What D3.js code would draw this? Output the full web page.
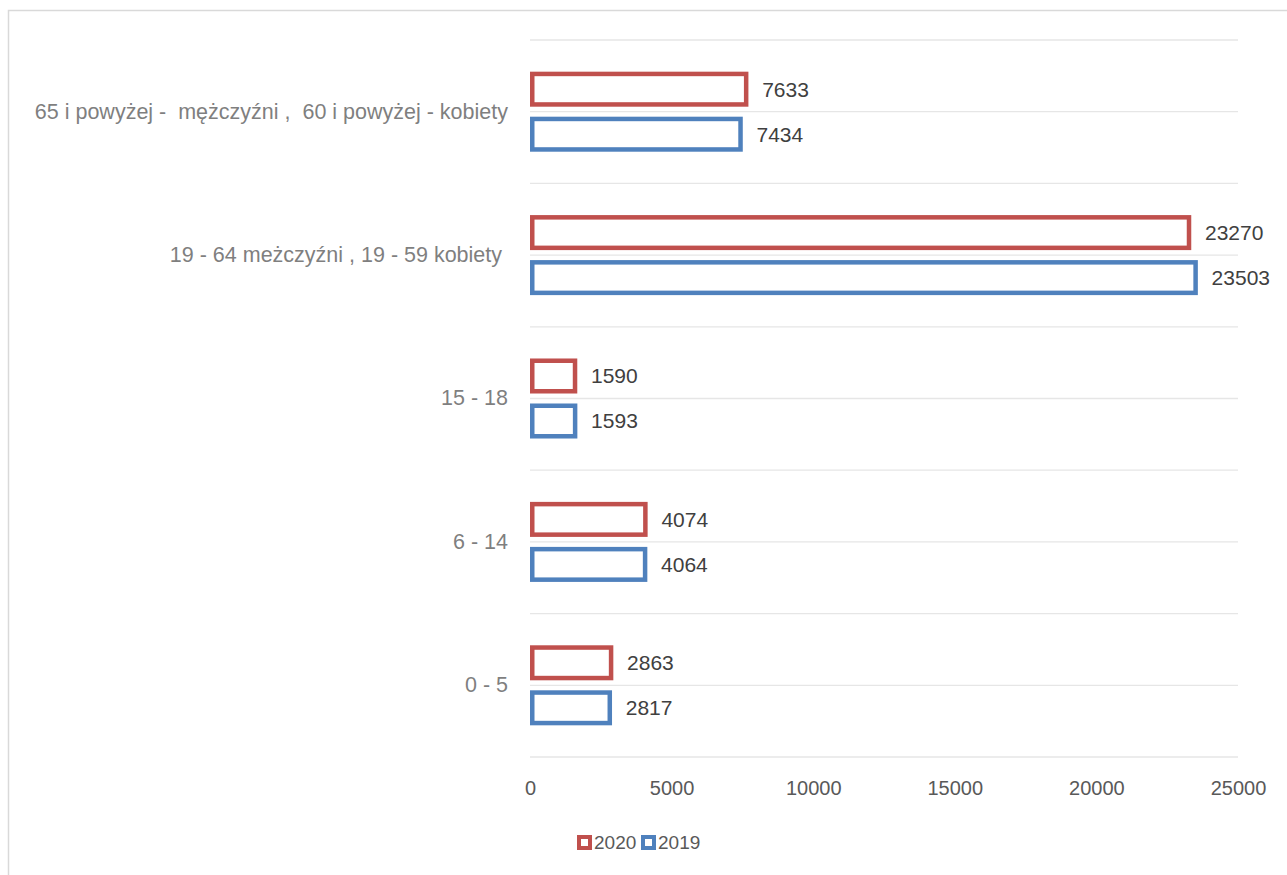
<!DOCTYPE html>
<html>
<head>
<meta charset="utf-8">
<script src="https://cdn.jsdelivr.net/npm/d3@7"></script>
<style>
  body { margin: 0; background: #fff; }
  svg { display: block; font-family: "Liberation Sans", Arial, sans-serif; }
  text { white-space: pre; }
</style>
</head>
<body>
<div id="chart"></div>
<script>
const width = 1287;
const height = 875;

// categories top to bottom, as in the picture
const categories = [
  '65 i powyżej -  mężczyźni ,  60 i powyżej - kobiety',
  '19 - 64 meżczyźni , 19 - 59 kobiety ',
  '15 - 18',
  '6 - 14',
  '0 - 5'
];
const series = ['2020', '2019'];
const values2020 = [7633, 23270, 1590, 4074, 2863];
const values2019 = [7434, 23503, 1593, 4064, 2817];
const xTicks = [0, 5000, 10000, 15000, 20000, 25000];
const colors = { '2020': '#c0504d', '2019': '#4f81bd' };

const rows = categories.map((c, i) => ({
  category: c,
  bars: [
    { key: '2020', value: values2020[i] },
    { key: '2019', value: values2019[i] }
  ]
}));

const svg = d3.select('#chart')
  .append('svg')
  .attr('width', width)
  .attr('height', height);

// chart frame (cut off at right and bottom)
svg.append('path')
  .attr('d', `M8.5,${height + 5} V10.5 H${width + 5}`)
  .attr('fill', 'none')
  .attr('stroke', '#d9d9d9')
  .attr('stroke-width', 1.5);

const plot = { left: 530, right: 1238, top: 40, bottom: 757 };

const xScale = d3.scaleLinear()
  .domain([0, 25000])
  .range([plot.left, plot.right]);

const yScale = d3.scaleBand()
  .domain(categories)
  .range([plot.top, plot.bottom]);

const inner = d3.scaleBand()
  .domain(series)
  .range([0, yScale.bandwidth()])
  .paddingInner(0.222)
  .paddingOuter(0.704);

// gridlines at band edges and band centers
const gridYs = [];
categories.forEach(c => {
  gridYs.push(yScale(c));
  gridYs.push(yScale(c) + yScale.bandwidth() / 2);
});
gridYs.push(plot.bottom);

svg.append('g')
  .selectAll('line')
  .data(gridYs)
  .join('line')
  .attr('x1', plot.left)
  .attr('x2', plot.right)
  .attr('y1', d => d)
  .attr('y2', d => d)
  .attr('stroke', '#e6e6e6')
  .attr('stroke-width', 1.3);

// x axis labels
const xAxis = svg.append('g')
  .attr('transform', `translate(0, ${plot.bottom})`)
  .call(d3.axisBottom(xScale).tickValues(xTicks).tickFormat(d3.format('d')).tickSize(0).tickPadding(24));
xAxis.select('.domain').remove();
xAxis.selectAll('text')
  .attr('fill', '#595959')
  .attr('font-size', 20)
  .attr('font-family', '"Liberation Sans", Arial, sans-serif');

// category labels
const yAxis = svg.append('g')
  .attr('transform', `translate(${plot.left}, 0)`)
  .call(d3.axisLeft(yScale).tickSize(0).tickPadding(22));
yAxis.select('.domain').remove();
yAxis.selectAll('text')
  .attr('fill', '#7f7f7f')
  .attr('font-size', 21.5)
  .attr('font-family', '"Liberation Sans", Arial, sans-serif');

// bars
const sw = 4.5;
const groups = svg.append('g')
  .selectAll('g')
  .data(rows)
  .join('g')
  .attr('transform', d => `translate(0, ${yScale(d.category)})`);

groups.selectAll('rect')
  .data(d => d.bars)
  .join('rect')
  .attr('x', xScale(0) + sw / 2)
  .attr('y', d => inner(d.key) + sw / 2)
  .attr('width', d => xScale(d.value) - xScale(0) - sw / 2)
  .attr('height', inner.bandwidth() - sw)
  .attr('fill', '#fff')
  .attr('stroke', d => colors[d.key])
  .attr('stroke-width', sw);

groups.selectAll('text.val')
  .data(d => d.bars)
  .join('text')
  .attr('class', 'val')
  .attr('x', d => xScale(d.value) + 16)
  .attr('y', d => inner(d.key) + inner.bandwidth() / 2)
  .attr('dy', '0.35em')
  .attr('fill', '#404040')
  .attr('font-size', 21)
  .text(d => d.value);

// legend
const legend = svg.append('g')
  .attr('transform', 'translate(577, 835)');
const items = legend.selectAll('g')
  .data(series)
  .join('g')
  .attr('transform', (d, i) => `translate(${i * 64}, 0)`);
items.append('rect')
  .attr('x', 2)
  .attr('y', 2)
  .attr('width', 11)
  .attr('height', 11)
  .attr('fill', '#fff')
  .attr('stroke', d => colors[d])
  .attr('stroke-width', 4);
items.append('text')
  .attr('x', 17)
  .attr('y', 7.5)
  .attr('dy', '0.35em')
  .attr('fill', '#595959')
  .attr('font-size', 19)
  .text(d => d);
</script>
</body>
</html>
